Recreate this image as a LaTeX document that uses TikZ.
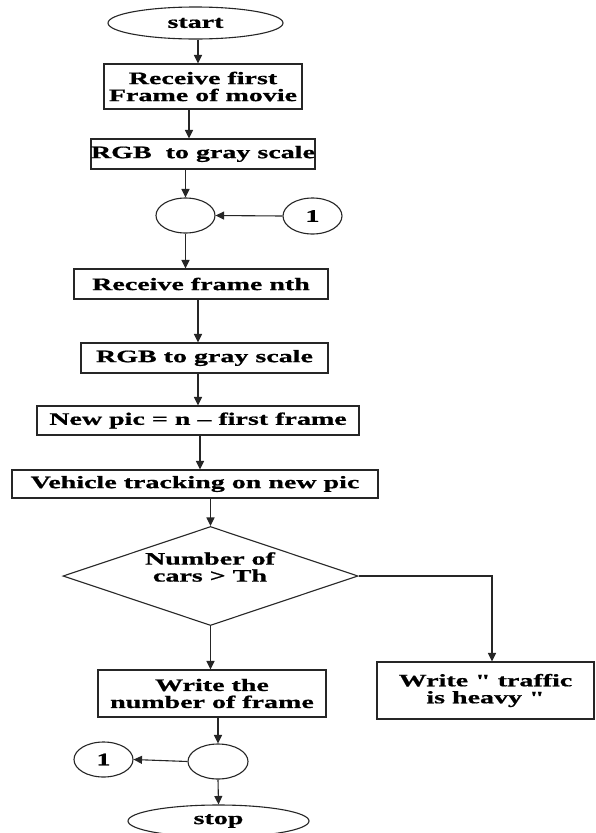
\documentclass[tikz,border=0pt]{standalone}
\usepackage{fontspec}
\setmainfont{Liberation Serif}[FakeStretch=1.6, BoldFeatures={FakeBold=0.8}]
\newfontfamily\qfont{Liberation Serif}[Ligatures=TeXOff, FakeStretch=1.6, BoldFeatures={FakeBold=0.8}]
\usetikzlibrary{shapes.geometric,arrows.meta}
\newcommand{\dq}{{\qfont"}}
\begin{document}
\begin{tikzpicture}[x=1pt,y=-1pt,
  every node/.style={font=\fontsize{17.5}{17}\selectfont\bfseries, text=black},
  box/.style={draw=black!85, line width=1.1pt, rectangle, inner sep=0pt, align=center},
  oval/.style={draw=black!85, line width=1.1pt, ellipse, inner sep=0pt},
  dia/.style={draw=black!85, line width=1.1pt, diamond, inner sep=0pt},
  arr/.style={draw=black!85, line width=1.1pt, -{Triangle[length=8.5pt,width=8pt]}}]
\useasboundingbox[fill=white] (0,0) rectangle (595,833);

\node[oval, minimum width=175pt, minimum height=32pt] (start) at (195.5,23) {start};
\node[box, minimum width=198pt, minimum height=45pt] (box1) at (203,86.5) {Receive first\\Frame of movie};
\node[box, minimum width=222pt, minimum height=30pt] (box2) at (203,154) {RGB\ \ to gray scale};
\node[oval, minimum width=59pt, minimum height=35pt] (m1) at (185.5,215.5) {};
\node[oval, minimum width=59pt, minimum height=36pt] (c1a) at (312.5,216) {1};
\node[box, minimum width=254pt, minimum height=30pt] (box3) at (201,284) {Receive frame nth};
\node[box, minimum width=247pt, minimum height=30pt] (box4) at (204.5,358) {RGB to gray scale};
\node[box, minimum width=322pt, minimum height=29pt] (box5) at (198,420.5) {New pic = n -- first frame};
\node[box, minimum width=366pt, minimum height=28pt] (box6) at (195,484) {Vehicle tracking on new pic};
\node[dia, minimum width=295pt, minimum height=99pt] (cond) at (210.5,576) {};
\node[align=center] (condtext) at (210,567) {Number of\\cars > Th};
\node[box, minimum width=217pt, minimum height=57pt] (box7) at (485.5,690.5) {Write \dq{} traffic\\is heavy \dq};
\node[box, minimum width=228pt, minimum height=47pt] (box8) at (212,693.5) {Write the\\number of frame};
\node[oval, minimum width=60pt, minimum height=35pt] (m2) at (218,761.5) {};
\node[oval, minimum width=59pt, minimum height=35pt] (c1b) at (103.5,759.5) {1};
\node[oval, minimum width=181pt, minimum height=32pt] (stop) at (218.5,821) {stop};

\draw[arr] ([xshift=2.5pt]start.south) -- ([xshift=2.5pt]start.south |- box1.north);
\draw[arr] ([xshift=-14pt]box1.south) -- ([xshift=-14pt]box1.south |- box2.north);
\draw[arr] (box2.south -| m1.north) -- (m1.north);
\draw[arr] (c1a.west) -- (m1.east);
\draw[arr] (m1.south) -- (m1.south |- box3.north);
\draw[arr] ([xshift=-3pt]box3.south) -- ([xshift=-3pt]box3.south |- box4.north);
\draw[arr] ([xshift=-6.5pt]box4.south) -- ([xshift=-6.5pt]box4.south |- box5.north);
\draw[arr] ([xshift=2pt]box5.south) -- ([xshift=2pt]box5.south |- box6.north);
\draw[arr] (box6.south -| cond.north) -- (cond.north);
\draw[arr] (cond.south) -- (cond.south |- box8.north);
\draw[arr] (cond.east) -| ([xshift=6.5pt]box7.north);
\draw[arr] (box8.south -| m2.north) -- (m2.north);
\draw[arr] (m2.west) -- (c1b.east);
\draw[arr] (m2.south) -- (stop.north);
\end{tikzpicture}
\end{document}
